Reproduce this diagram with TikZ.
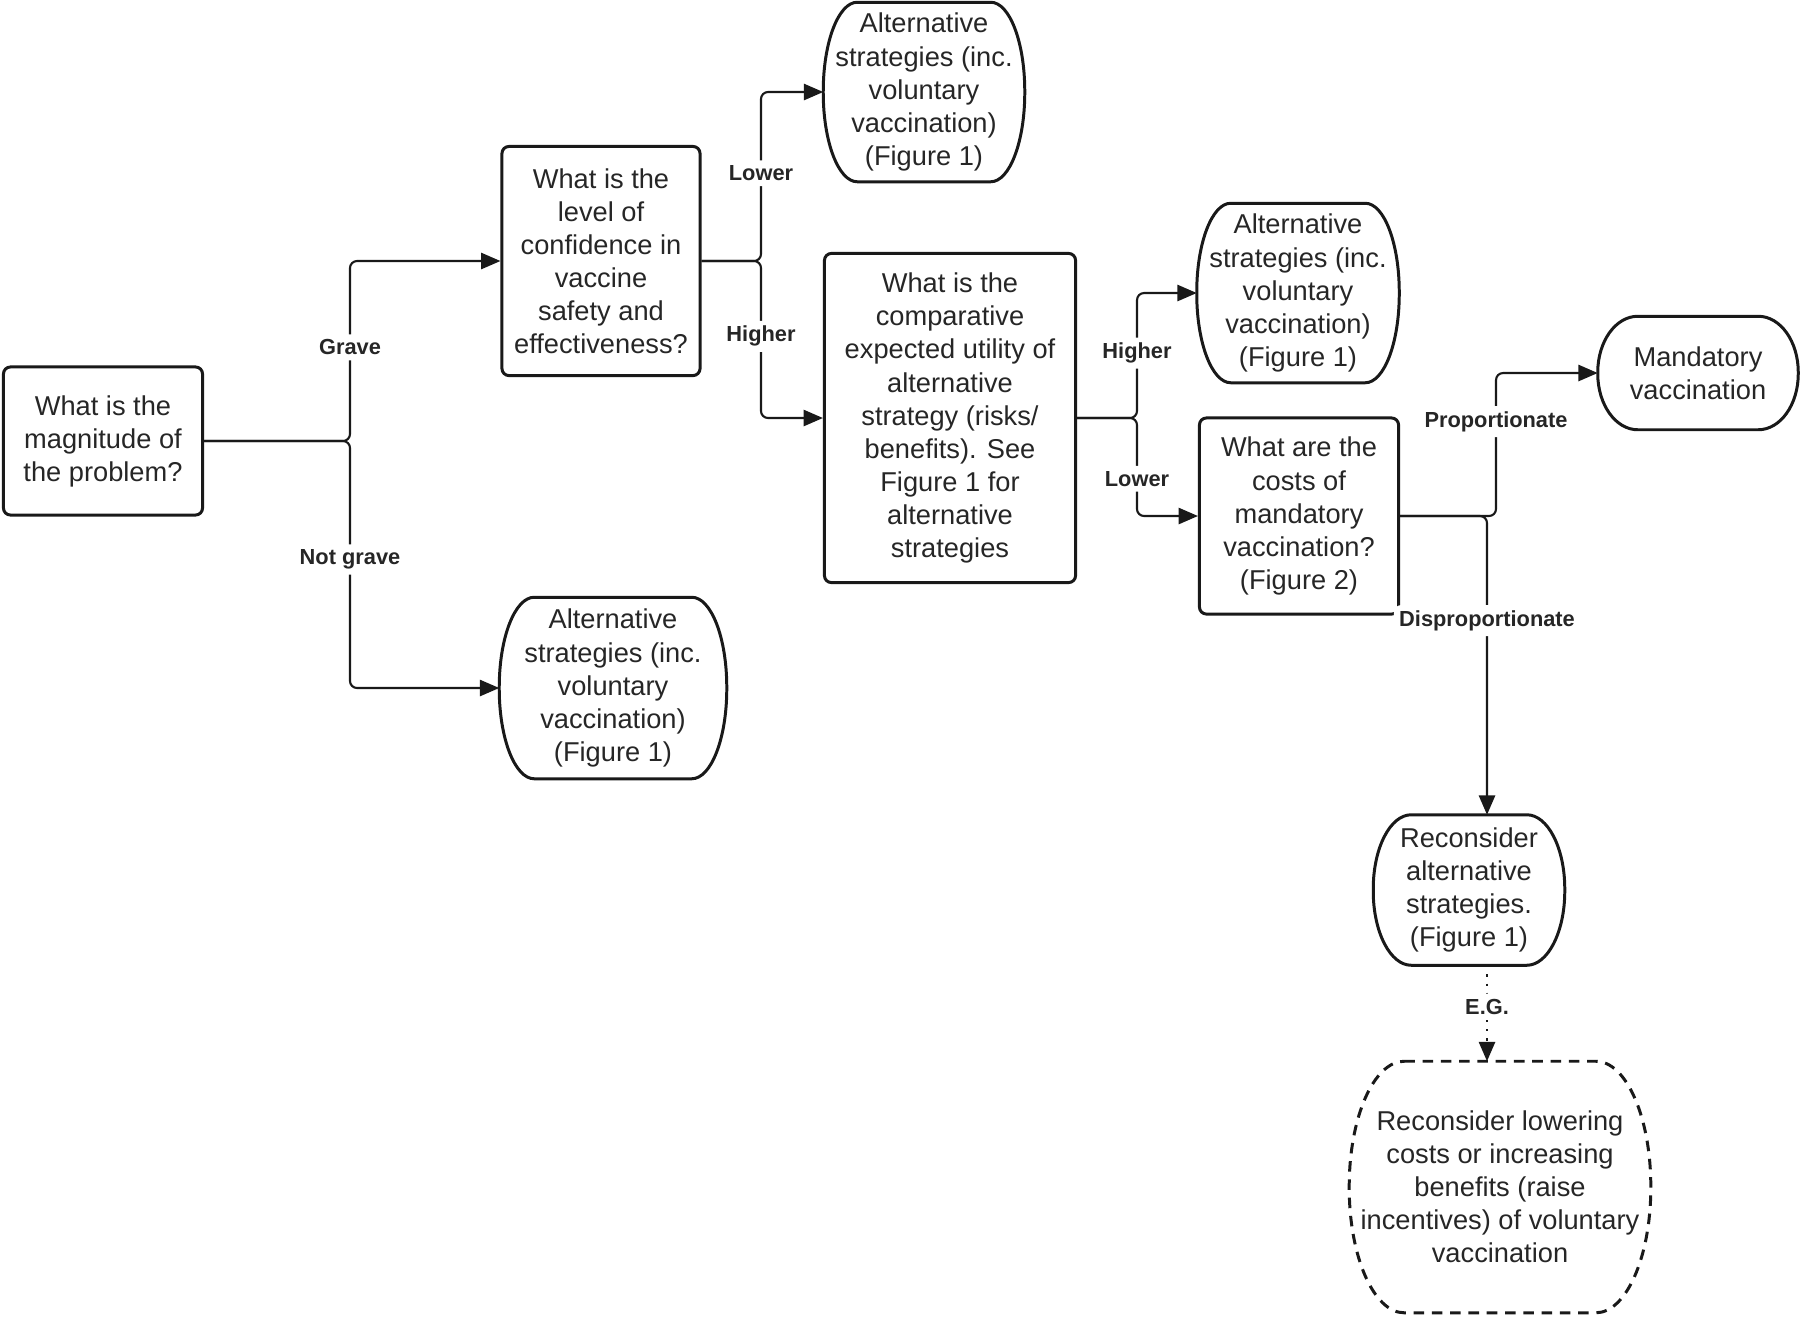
\documentclass[tikz,border=0pt]{standalone}
\usepackage{fontspec}
\setmainfont{Liberation Sans}
\usepackage{tikz}
\usetikzlibrary{arrows.meta,calc,positioning}
\definecolor{lineGray}{rgb}{0.1,0.1,0.1}
\definecolor{textGray}{rgb}{0.15,0.15,0.15}

% outline of a terminal node: flat top and bottom, bulging sides
\newcommand{\termOutline}[4][]{%
	\draw[termline,#1] ($(#2.north west)+(#3,0)$) -- ($(#2.north east)+(-#3,0)$)
		.. controls +(0.552*#3,0) and +(0,-0.552*#4) .. ($(#2.north east)+(0,#4)$)
		-- ($(#2.south east)+(0,-#4)$)
		.. controls +(0,0.552*#4) and +(0.552*#3,0) .. ($(#2.south east)+(-#3,0)$)
		-- ($(#2.south west)+(#3,0)$)
		.. controls +(-0.552*#3,0) and +(0,0.552*#4) .. ($(#2.south west)+(0,-#4)$)
		-- ($(#2.north west)+(0,#4)$)
		.. controls +(0,-0.552*#4) and +(-0.552*#3,0) .. ($(#2.north west)+(#3,0)$) -- cycle;
}

\tikzset{
	boxtext/.style={align=center, inner sep=0pt, text=textGray, font=\fontsize{7.75}{9.4}\selectfont},
	question/.style={boxtext, draw=lineGray, line width=0.85pt, rounded corners=2pt},
	terminal/.style={boxtext},
	termline/.style={draw=lineGray, line width=0.85pt},
	link/.style={draw=lineGray, line width=0.6pt, rounded corners=2pt, -{Triangle[length=5.5pt,width=4.6pt]}},
	branch/.style={fill=white, inner sep=1.5pt, text=textGray, font=\bfseries\fontsize{6.2}{7}\selectfont},
}

\begin{document}
\begin{tikzpicture}[x=0.01cm, y=-0.01cm]
	\useasboundingbox (0,0) rectangle (1800,1317);

	% questions
	\node[question, minimum width=1.99cm, minimum height=1.48cm] (magnitude) at (103,441) {What is the\\magnitude of\\the problem?};
	\node[question, minimum width=1.98cm, minimum height=2.29cm] (confidence) at (601,261) {What is the\\level of\\confidence in\\vaccine\\safety and\\effectiveness?};
	\node[question, minimum width=2.51cm, minimum height=3.29cm] (utility) at (950,418) {What is the\\comparative\\expected utility of\\alternative\\strategy (risks/\\benefits). See\\Figure 1 for\\alternative\\strategies};
	\node[question, minimum width=1.99cm, minimum height=1.96cm] (costs) at (1299,516) {What are the\\costs of\\mandatory\\vaccination?\\(Figure 2)};

	% outcomes
	\node[terminal, minimum width=2.26cm, minimum height=1.80cm] (altGrave) at (613,688) {Alternative\\strategies (inc.\\voluntary\\vaccination)\\(Figure 1)};
	\node[terminal, minimum width=2.00cm, minimum height=1.78cm] (altConf) at (924,92) {Alternative\\strategies (inc.\\voluntary\\vaccination)\\(Figure 1)};
	\node[terminal, minimum width=2.01cm, minimum height=1.78cm] (altUtil) at (1298,293) {Alternative\\strategies (inc.\\voluntary\\vaccination)\\(Figure 1)};
	\node[terminal, minimum width=1.99cm, minimum height=1.12cm] (mandatory) at (1698,373) {Mandatory\\vaccination};
	\node[terminal, minimum width=1.90cm, minimum height=1.49cm] (reconsider) at (1469,890) {Reconsider\\alternative\\strategies.\\(Figure 1)};
	\node[terminal, minimum width=3.00cm, minimum height=2.50cm] (lowering) at (1500,1187) {Reconsider lowering\\costs or increasing\\benefits (raise\\incentives) of voluntary\\vaccination};

	\termOutline{altGrave}{35}{90}
	\termOutline{altConf}{34}{89}
	\termOutline{altUtil}{34}{89}
	\termOutline{mandatory}{40}{56}
	\termOutline{reconsider}{38}{74}
	\termOutline[dashed, dash pattern=on 3pt off 2.2pt]{lowering}{55}{125}

	% junctions
	\coordinate (jMag) at (350,441);
	\coordinate (jConf) at (761,261);
	\coordinate (jUtil) at (1137,418);
	\coordinate (jProp) at (1496,516);
	\coordinate (jDisp) at (1487,516);

	% edges
	\draw[link] (magnitude.east) -- (jMag) |- node[branch, pos=0.26] {Grave} (confidence.west);
	\draw[link] (magnitude.east) -- (jMag) |- node[branch, pos=0.24] {Not grave} (altGrave.west);
	\draw[link] (confidence.east) -- (jConf) |- node[branch, pos=0.26] {Lower} (altConf.west);
	\draw[link] (confidence.east) -- (jConf) |- node[branch, pos=0.24] {Higher} (utility.west);
	\draw[link] (utility.east) -- (jUtil) |- node[branch, pos=0.26] {Higher} (altUtil.west);
	\draw[link] (utility.east) -- (jUtil) |- node[branch, pos=0.31] {Lower} (costs.west);
	\draw[link] (costs.east) -- (jProp) |- node[branch, pos=0.33] {Proportionate} (mandatory.west);
	\draw[link] (costs.east) -- (jDisp) -- node[branch, pos=0.35] {Disproportionate} (jDisp |- reconsider.north);
	\draw[link, dotted] (jDisp |- reconsider.south) -- node[branch, pos=0.43] {E.G.} (jDisp |- lowering.north);
\end{tikzpicture}
\end{document}
